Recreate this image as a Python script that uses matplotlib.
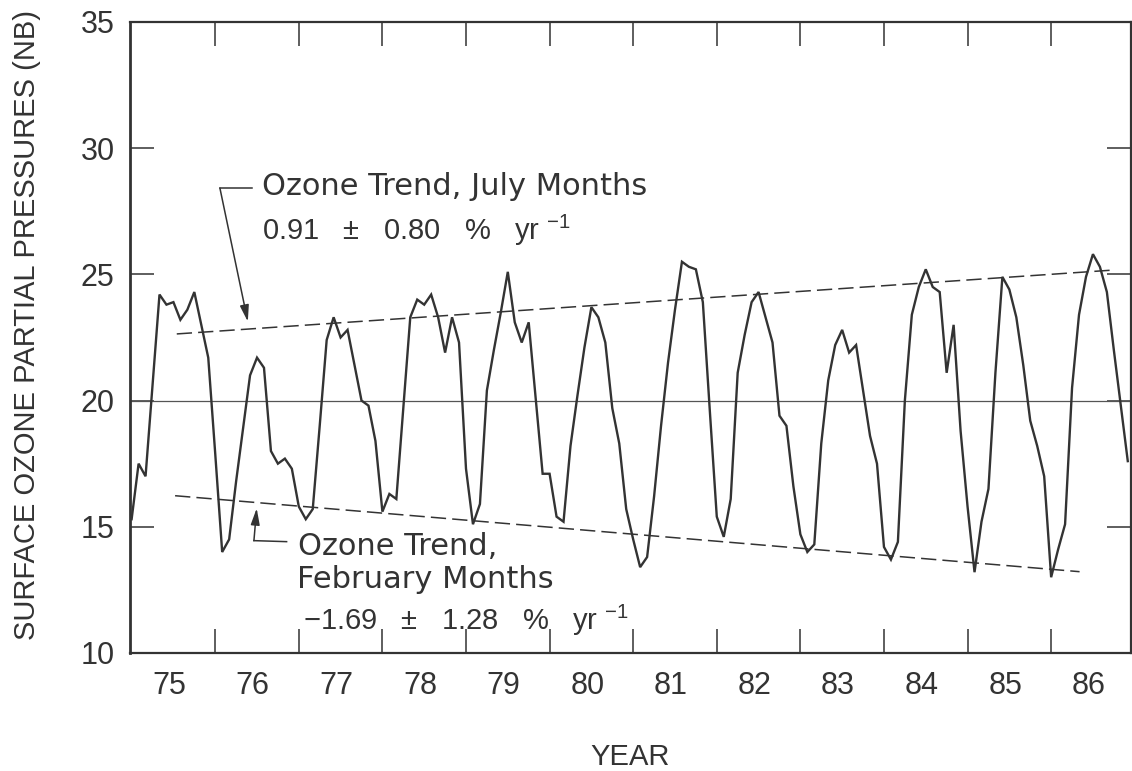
import numpy as np
import matplotlib
matplotlib.use("Agg")
import matplotlib.pyplot as plt

plt.rcParams['font.family'] = ['Liberation Sans', 'DejaVu Sans']
plt.rcParams['mathtext.fontset'] = 'custom'
plt.rcParams['mathtext.rm'] = 'Liberation Sans'
plt.rcParams['mathtext.it'] = 'Liberation Sans'
plt.rcParams['mathtext.default'] = 'regular'

# monthly surface ozone partial pressure (nb), Jan 1975 .. Dec 1986
ozone = [
    15.3, 17.5, 17.0, 20.6, 24.2, 23.8, 23.9, 23.2, 23.6, 24.3, 23.0, 21.7,  # 75
    17.9, 14.0, 14.5, 16.8, 18.9, 21.0, 21.7, 21.3, 18.0, 17.5, 17.7, 17.3,  # 76
    15.8, 15.3, 15.7, 19.0, 22.4, 23.3, 22.5, 22.8, 21.4, 20.0, 19.8, 18.4,  # 77
    15.6, 16.3, 16.1, 19.7, 23.3, 24.0, 23.8, 24.2, 23.3, 21.9, 23.3, 22.3,  # 78
    17.3, 15.1, 15.9, 20.4, 22.0, 23.5, 25.1, 23.1, 22.3, 23.1, 20.1, 17.1,  # 79
    17.1, 15.4, 15.2, 18.2, 20.2, 22.1, 23.7, 23.3, 22.3, 19.7, 18.3, 15.7,  # 80
    14.5, 13.4, 13.8, 16.2, 19.0, 21.5, 23.6, 25.5, 25.3, 25.2, 23.9, 19.6,  # 81
    15.4, 14.6, 16.1, 21.1, 22.6, 23.9, 24.3, 23.3, 22.3, 19.4, 19.0, 16.6,  # 82
    14.7, 14.0, 14.3, 18.3, 20.8, 22.2, 22.8, 21.9, 22.2, 20.4, 18.6, 17.5,  # 83
    14.2, 13.7, 14.4, 20.0, 23.4, 24.5, 25.2, 24.5, 24.3, 21.1, 23.0, 18.8,  # 84
    15.8, 13.2, 15.2, 16.5, 21.1, 24.9, 24.4, 23.3, 21.4, 19.2, 18.2, 17.0,  # 85
    13.0, 14.1, 15.1, 20.5, 23.4, 24.9, 25.8, 25.3, 24.3, 22.0, 19.8, 17.6,  # 86
]
start_year = 75
years = start_year + np.arange(len(ozone)) / 12

year_labels = [str(y) for y in range(75, 87)]
y_ticks = [10, 15, 20, 25, 30, 35]
reference_level = 20

# fitted trend lines (end points)
july_trend_x = [75.54, 86.74]
july_trend_y = [22.64, 25.17]
feb_trend_x = [75.52, 86.34]
feb_trend_y = [16.23, 13.22]

ink = '#333333'
word_font = ['DejaVu Sans']

fig = plt.figure(figsize=(11.32, 7.71), dpi=100)
ax = fig.add_axes([0.1148, 0.1531, 0.8843, 0.8184])

ax.axhline(reference_level, color='#555555', lw=0.9)
ax.plot(years, ozone, color=ink, lw=1.7, solid_joinstyle='miter')
ax.plot(july_trend_x, july_trend_y, color=ink, lw=1.1, dashes=(10, 4))
ax.plot(feb_trend_x, feb_trend_y, color=ink, lw=1.1, dashes=(10, 4))

ax.set_xlim(74.98, 86.955)
ax.set_ylim(10, 35)

# tick marks on year boundaries, labels centred on each year
ax.set_xticks(range(76, 87))
ax.set_xticklabels([])
ax.set_xticks(np.arange(75.45, 87, 1), minor=True)
ax.set_xticklabels(year_labels, minor=True)
ax.set_yticks(y_ticks)

ax.tick_params(which='major', direction='in', length=17, width=1.1,
               top=True, right=True, color=ink, labelcolor=ink,
               labelsize=22)
ax.tick_params(axis='x', which='minor', length=0, pad=13, labelsize=22,
               labelcolor=ink)
ax.tick_params(axis='y', pad=11)
for side in ax.spines.values():
    side.set_linewidth(1.6)
    side.set_color(ink)
ax.spines['left'].set_linewidth(2.0)

ax.set_ylabel('SURFACE OZONE PARTIAL PRESSURES (NB)', fontsize=21,
              color=ink)
ax.yaxis.set_label_coords(-0.089, 0.52)
ax.set_xlabel('YEAR', fontsize=21, color=ink, labelpad=30)

arrow = dict(arrowstyle='-|>,head_length=0.55,head_width=0.15',
             mutation_scale=18, color=ink, lw=1.1, shrinkA=0, shrinkB=0)

# July trend label
ax.text(76.56, 28.15, 'Ozone Trend, July Months', fontsize=22, color=ink,
        family=word_font)
ax.text(76.56, 26.36, '0.91   \u00b1   0.80   %   yr $^{-1}$', fontsize=21,
        color=ink)
ax.plot([76.44, 76.056], [28.42, 28.42], color=ink, lw=1.1)
ax.annotate('', xy=(76.39, 23.13), xytext=(76.056, 28.42), arrowprops=arrow)

# February trend label
ax.text(76.99, 13.88, 'Ozone Trend,', fontsize=22, color=ink,
        family=word_font)
ax.text(76.98, 12.58, 'February Months', fontsize=22, color=ink,
        family=word_font)
ax.text(77.05, 10.91, '\u22121.69   \u00b1   1.28   %   yr $^{-1}$',
        fontsize=21, color=ink)
ax.plot([76.854, 76.463], [14.41, 14.45], color=ink, lw=1.1)
ax.annotate('', xy=(76.496, 15.73), xytext=(76.463, 14.45), arrowprops=arrow)

fig.savefig('out.png', dpi=100)
